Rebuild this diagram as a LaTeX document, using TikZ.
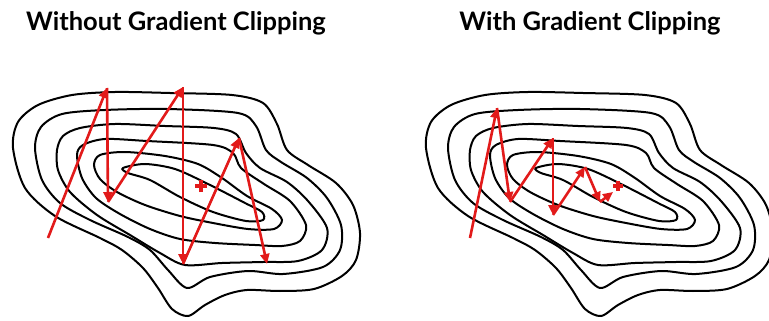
\documentclass[tikz,border=0pt]{standalone}
\usepackage{fontspec}
\setmainfont{Lato}
\usetikzlibrary{arrows.meta}
\definecolor{gradred}{RGB}{226,26,26}
\tikzset{
  contour/.style={black, line width=2pt},
  gradstep/.style={gradred, line width=2.6pt, -{Triangle[length=10pt,width=9pt]}},
  minmark/.style={gradred, line width=3.6pt},
  paneltitle/.style={font=\bfseries\fontsize{25.5}{30}\selectfont, inner sep=0pt}
}
% the loss landscape, drawn once for each panel
\newcommand{\losslevels}{%
  % outer ring
  \draw[contour] plot[smooth cycle] coordinates {(13,148) (18,122) (38,105) (72,95) (115,92) (170,93) (232,95) (263,103) (277,124) (287,150) (308,165) (336,183) (353,205) (360,233) (356,260) (342,276) (314,289) (280,291) (247,290) (225,295) (205,305) (188,316) (172,309) (158,288) (143,268) (122,250) (100,238) (55,216) (25,188)};
  \draw[contour] plot[smooth cycle] coordinates {(35,148) (41,127) (62,114) (105,110) (167,109) (238,113) (256,126) (266,150) (281,162) (307,178) (327,198) (341,225) (340,250) (323,267) (283,274) (248,271) (210,277) (187,288) (168,270) (150,250) (128,237) (90,220) (60,203) (42,180)};
  \draw[contour] plot[smooth cycle] coordinates {(57,150) (63,136) (80,128) (115,124) (165,126) (214,128) (236,134) (246,153) (260,168) (287,182) (308,201) (327,228) (322,250) (298,261) (263,262) (222,263) (185,265) (160,253) (130,235) (97,215) (70,192) (58,170)};
  \draw[contour] plot[smooth cycle] coordinates {(77,155) (83,145) (105,139) (147,141) (213,145) (233,153) (241,168) (264,184) (290,201) (306,225) (300,241) (282,246) (255,245) (215,243) (180,239) (150,229) (120,214) (96,198) (82,178)};
  \draw[contour] plot[smooth cycle] coordinates {(94,165) (100,155) (125,152) (165,156) (198,164) (222,178) (247,196) (272,209) (282,220) (274,229) (248,229) (213,223) (180,216) (145,205) (117,192) (100,179)};
  % innermost ring
  \draw[contour] plot[smooth cycle] coordinates {(123,168) (145,164) (175,169) (208,184) (245,203) (262,212) (263,220) (246,221) (213,212) (180,197) (150,180) (128,173)};
}
\begin{document}
\begin{tikzpicture}[x=1pt, y=-1pt]
  \useasboundingbox (0,0) rectangle (769,321);
  \clip (0,0) rectangle (769,321);
  % titles
  \node[paneltitle] (lefttitle) at (176,23) {Without Gradient Clipping};
  \node[paneltitle] (righttitle) at (590,23) {With Gradient Clipping};
  % contours
  \losslevels
  \begin{scope}[shift={(413,0)}]
    \losslevels
  \end{scope}
  % left: unclipped steps
  \coordinate (a0) at (48,238);
  \coordinate (a1) at (107,88);
  \coordinate (a2) at (108,202);
  \coordinate (a3) at (183,87);
  \coordinate (a4) at (183,264);
  \coordinate (a5) at (239,138);
  \coordinate (a6) at (267,264);
  \coordinate (amin) at (201,186);
  \draw[gradstep] (a0) -- (a1);
  \draw[gradstep] (a1) -- (a2);
  \draw[gradstep] (a2) -- (a3);
  \draw[gradstep] (a3) -- (a4);
  \draw[gradstep] (a4) -- (a5);
  \draw[gradstep] (a5) -- (a6);
  \draw[minmark] ([xshift=-6pt]amin) -- ([xshift=6pt]amin);
  \draw[minmark] ([yshift=-6pt]amin) -- ([yshift=6pt]amin);
  % right: clipped steps
  \coordinate (b0) at (470,238);
  \coordinate (b1) at (497,108);
  \coordinate (b2) at (510,202);
  \coordinate (b3) at (553,138);
  \coordinate (b4) at (553,215);
  \coordinate (b5) at (585,167);
  \coordinate (b6) at (600,202);
  \coordinate (b7) at (613,192);
  \coordinate (bmin) at (618,186);
  \draw[gradstep] (b0) -- (b1);
  \draw[gradstep] (b1) -- (b2);
  \draw[gradstep] (b2) -- (b3);
  \draw[gradstep] (b3) -- (b4);
  \draw[gradstep] (b4) -- (b5);
  \draw[gradstep] (b5) -- (b6);
  \draw[gradstep] (b6) -- (b7);
  \draw[minmark] ([xshift=-5pt]bmin) -- ([xshift=5pt]bmin);
  \draw[minmark] ([yshift=-5pt]bmin) -- ([yshift=5pt]bmin);
\end{tikzpicture}
\end{document}
